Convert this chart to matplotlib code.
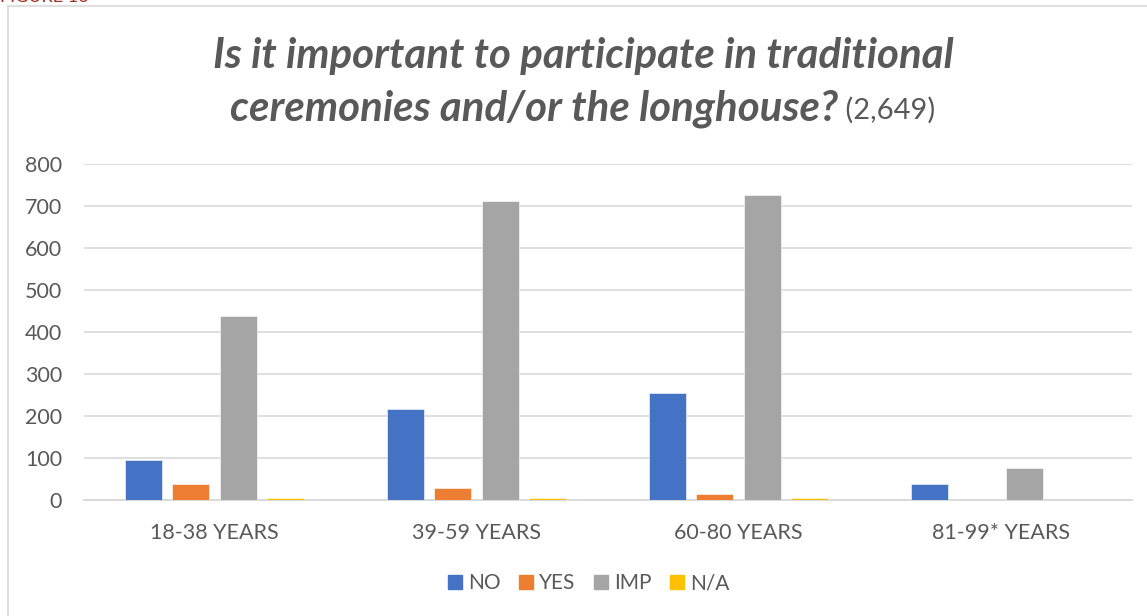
import matplotlib
matplotlib.use("Agg")
import matplotlib.pyplot as plt
import numpy as np
from matplotlib.patches import Rectangle
from matplotlib.lines import Line2D

categories = ["18-38 YEARS", "39-59 YEARS", "60-80 YEARS", "81-99* YEARS"]
series_names = ["NO", "YES", "IMP", "N/A"]
no_vals = [94, 216, 253, 38]
yes_vals = [36, 27, 14, 0]
imp_vals = [437, 712, 725, 76]
na_vals = [3, 3, 3, 0]
series_vals = [no_vals, yes_vals, imp_vals, na_vals]
colors = ["#4472C4", "#ED7D31", "#A5A5A5", "#FFC000"]
yticks = [0, 100, 200, 300, 400, 500, 600, 700, 800]

FONT = "Lato"
TXT = "#595959"
W, H = 1147, 616
fig = plt.figure(figsize=(W / 100, H / 100), dpi=100)
fig.patch.set_facecolor("white")

# outer chart border
fig.add_artist(Rectangle((8 / W, -0.05), 1.2, 1 - 6.5 / H + 0.05,
                         transform=fig.transFigure, fill=False,
                         edgecolor="#d9d9d9", linewidth=1.2))
fig.text(0.0, 1 - 2.5 / H, "FIGURE 16", color="#a33028", fontsize=13,
         family=FONT, va="baseline", ha="left")

ax = fig.add_axes([83.5 / W, 1 - 499.5 / H, 1048 / W, 335.5 / H])
x = np.arange(len(categories))
step = 0.181
width = 0.141
for i, (name, vals, c) in enumerate(zip(series_names, series_vals, colors)):
    ax.bar(x + (i - 1.5) * step, vals, width, color=c, label=name,
           edgecolor="white", linewidth=0.4, zorder=3)

ax.set_xlim(-0.5, 3.5)
ax.set_ylim(0, 800)
ax.set_yticks(yticks)
ax.set_xticks(x)
ax.set_xticklabels(categories)
ax.grid(axis="y", color="#d9d9d9", linewidth=1.2, zorder=0)
for s in ["top", "right", "left"]:
    ax.spines[s].set_visible(False)
ax.spines["bottom"].set_color("#d9d9d9")
ax.spines["bottom"].set_linewidth(1.4)
ax.tick_params(axis="both", length=0, labelsize=15.5, labelcolor=TXT)
ax.tick_params(axis="y", pad=15.5)
ax.tick_params(axis="x", pad=17)
for t in ax.get_xticklabels() + ax.get_yticklabels():
    t.set_family(FONT)

# title, two lines
tkw = dict(fontweight="bold", style="italic", color=TXT, family=FONT)
t1 = fig.text(583 / W, 1 - 56 / H, "Is it important to participate in traditional",
              ha="center", va="center", fontsize=28, **tkw)
t2a = fig.text(0, 1 - 109 / H, "ceremonies and/or the longhouse?",
               ha="left", va="center", fontsize=28, **tkw)
t2b = fig.text(0, 1 - 110 / H, " (2,649)", ha="left", va="center",
               fontsize=21, color=TXT, family=FONT)
fig.canvas.draw()
r = fig.canvas.get_renderer()
scale = 740 / t1.get_window_extent(r).width
t1.set_fontsize(28 * scale)
t2a.set_fontsize(28 * scale)
fig.canvas.draw()
wa = t2a.get_window_extent(r).width
wb = t2b.get_window_extent(r).width
start = 583 - (wa + wb) / 2
t2a.set_x(start / W)
t2b.set_x((start + wa) / W)

handles = [Line2D([], [], marker="s", linestyle="none", markersize=9.5,
                  markerfacecolor=c, markeredgecolor=c) for c in colors]
leg = fig.legend(handles, series_names, loc="center", bbox_to_anchor=(588 / W, 1 - 583 / H),
                 ncol=4, frameon=False, handlelength=0.8, handletextpad=0.25,
                 columnspacing=0.8, prop={"family": FONT, "size": 15})
for t in leg.get_texts():
    t.set_color(TXT)

fig.savefig("out.png", dpi=100)
